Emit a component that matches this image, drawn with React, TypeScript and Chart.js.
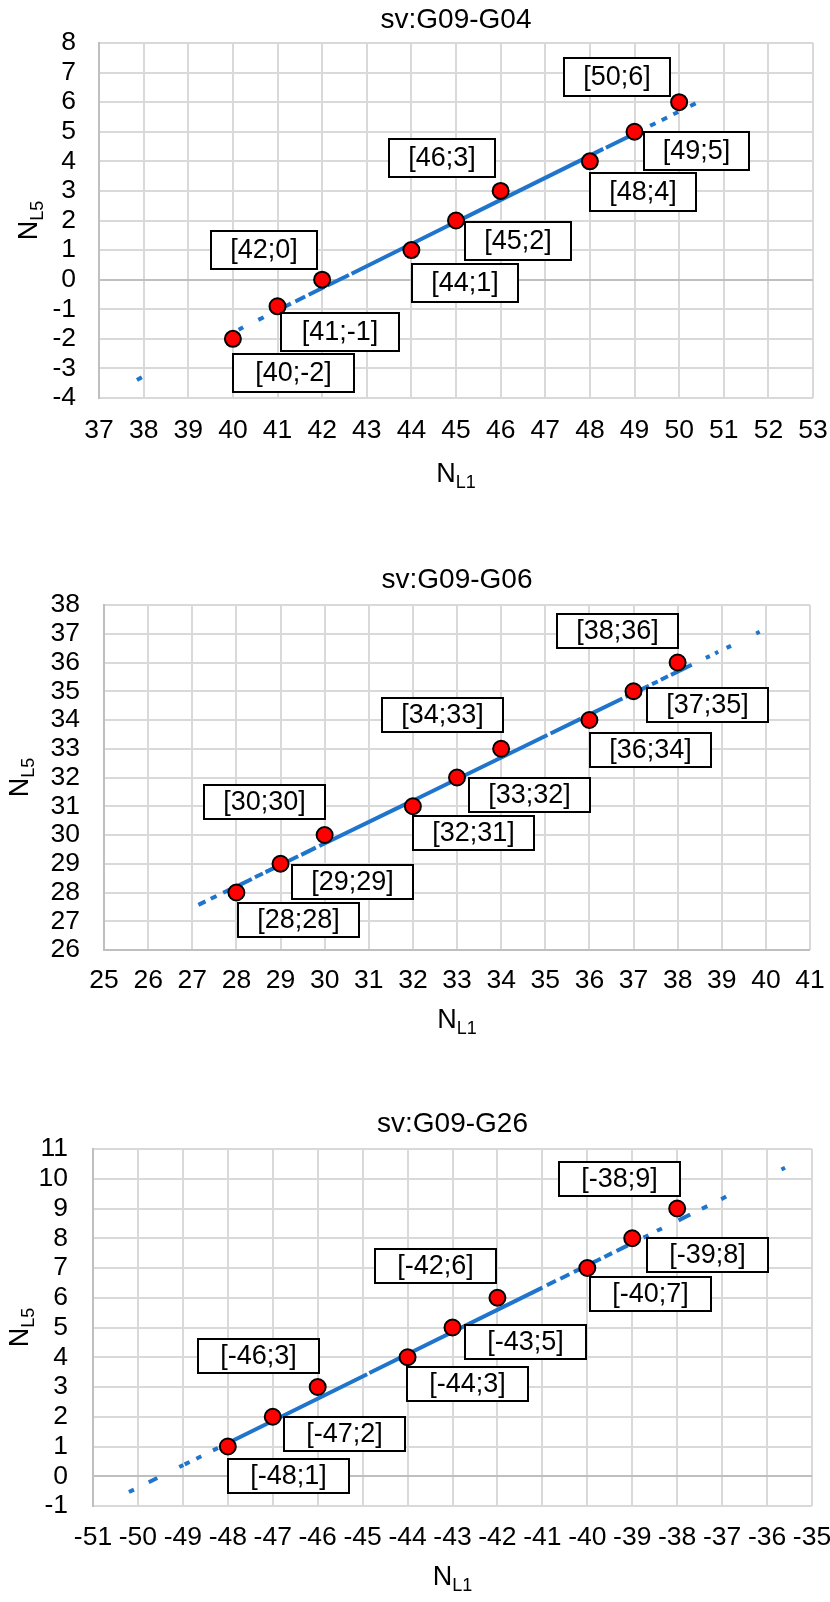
import React, { useEffect, useRef } from 'react';
import { Chart, registerables } from 'chart.js';

Chart.register(...registerables);

const FONT = '"Liberation Sans", Arial, Helvetica, sans-serif';

// ---------- Chart 1: sv:G09-G04 ----------
const g04Title = 'sv:G09-G04';
const g04XTicks = [37, 38, 39, 40, 41, 42, 43, 44, 45, 46, 47, 48, 49, 50, 51, 52, 53];
const g04YTicks = [-4, -3, -2, -1, 0, 1, 2, 3, 4, 5, 6, 7, 8];
const g04N1 = [40, 41, 42, 44, 45, 46, 48, 49, 50];
const g04N5 = [-2, -0.9, 0, 1, 2, 3, 4, 5, 6];
const g04Labels = ['[40;-2]', '[41;-1]', '[42;0]', '[44;1]', '[45;2]', '[46;3]', '[48;4]', '[49;5]', '[50;6]'];
const g04FloatN1 = [37.85, 37.96, null, 40.13, 40.23, null, 40.57, 40.69, null, 41.13, 41.3, null, 41.4, 41.62, null, 41.7, 42.05, null, 42.12, 42.6, null, 42.66, 44.9, null, 44.95, 47.95, null, 48.02, 48.3, null, 48.36, 48.86, null, 49.35, 49.47, null, 49.61, 49.73, null, 49.87, 49.98, null, 50.25, 50.37];
const g04FloatN5 = [-3.39, -3.3, null, -1.69, -1.61, null, -1.36, -1.27, null, -0.94, -0.81, null, -0.74, -0.57, null, -0.51, -0.25, null, -0.2, 0.16, null, 0.2, 1.88, null, 1.91, 4.15, null, 4.21, 4.42, null, 4.46, 4.83, null, 5.2, 5.29, null, 5.39, 5.48, null, 5.59, 5.67, null, 5.87, 5.96];

// ---------- Chart 2: sv:G09-G06 ----------
const g06Title = 'sv:G09-G06';
const g06XTicks = [25, 26, 27, 28, 29, 30, 31, 32, 33, 34, 35, 36, 37, 38, 39, 40, 41];
const g06YTicks = [26, 27, 28, 29, 30, 31, 32, 33, 34, 35, 36, 37, 38];
const g06N1 = [28, 29, 30, 32, 33, 34, 36, 37, 38];
const g06N5 = [28, 29, 30, 31, 32, 33, 34, 35, 36];
const g06Labels = ['[28;28]', '[29;29]', '[30;30]', '[32;31]', '[33;32]', '[34;33]', '[36;34]', '[37;35]', '[38;36]'];
const g06FloatN1 = [27.14, 27.3, null, 27.42, 27.55, null, 27.7, 27.85, null, 27.95, 28.35, null, 28.42, 28.6, null, 28.66, 28.92, null, 29.05, 29.4, null, 29.47, 29.8, null, 29.88, 31.95, null, 32.02, 35.05, null, 35.12, 35.8, null, 35.88, 36.75, null, 36.82, 37.05, null, 37.12, 37.35, null, 37.42, 37.55, null, 37.62, 37.78, null, 37.85, 38.32, null, 38.64, 38.73, null, 38.85, 38.92, null, 39.11, 39.21, null, 39.78, 39.86];
const g06FloatN5 = [27.57, 27.69, null, 27.78, 27.88, null, 27.99, 28.1, null, 28.17, 28.47, null, 28.53, 28.66, null, 28.71, 28.9, null, 29.0, 29.26, null, 29.31, 29.56, null, 29.62, 31.16, null, 31.21, 33.48, null, 33.53, 34.04, null, 34.1, 34.75, null, 34.8, 34.97, null, 35.02, 35.19, null, 35.25, 35.34, null, 35.4, 35.52, null, 35.57, 35.92, null, 36.16, 36.22, null, 36.31, 36.37, null, 36.51, 36.58, null, 37.01, 37.07];

// ---------- Chart 3: sv:G09-G26 ----------
const g26Title = 'sv:G09-G26';
const g26XTicks = [-51, -50, -49, -48, -47, -46, -45, -44, -43, -42, -41, -40, -39, -38, -37, -36, -35];
const g26YTicks = [-1, 0, 1, 2, 3, 4, 5, 6, 7, 8, 9, 10, 11];
const g26N1 = [-48, -47, -46, -44, -43, -42, -40, -39, -38];
const g26N5 = [1, 2, 3, 4, 5, 6, 7, 8, 9];
const g26Labels = ['[-48;1]', '[-47;2]', '[-46;3]', '[-44;3]', '[-43;5]', '[-42;6]', '[-40;7]', '[-39;8]', '[-38;9]'];
const g26FloatN1 = [-50.2, -50.09, null, -49.76, -49.57, null, -49.08, -48.99, null, -48.96, -48.85, null, -48.7, -48.59, null, -48.33, -48.22, null, -47.95, -44.9, null, -44.85, -41.0, null, -40.9, -40.7, null, -40.6, -40.4, null, -40.3, -40.1, null, -39.95, -39.7, null, -39.62, -39.45, null, -39.35, -39.1, null, -38.75, -38.64, null, -38.45, -38.34, null, -37.97, -37.71, null, -37.45, -37.33, null, -37.02, -36.91, null, -35.68, -35.6];
const g26FloatN5 = [-0.53, -0.45, null, -0.2, -0.06, null, 0.31, 0.38, null, 0.4, 0.48, null, 0.59, 0.67, null, 0.87, 0.95, null, 1.15, 3.43, null, 3.47, 6.34, null, 6.42, 6.57, null, 6.64, 6.79, null, 6.87, 7.01, null, 7.13, 7.31, null, 7.37, 7.5, null, 7.57, 7.76, null, 8.02, 8.1, null, 8.25, 8.33, null, 8.6, 8.8, null, 8.99, 9.08, null, 9.31, 9.4, null, 10.31, 10.37];

// ---------- layout (positions / sizes only) ----------
const panels = [
  {
    title: g04Title, xTicks: g04XTicks, yTicks: g04YTicks, n1: g04N1, n5: g04N5, labels: g04Labels,
    fN1: g04FloatN1, fN5: g04FloatN5, yCross: 0,
    top: 0, pad: { top: 43, left: 0, right: 17, bottom: 76 }, yW: 99,
    xPad: 17, yPad: 23, titleGap: 15, xTitleGap: 84, yTitleX: 37,
    offsets: [[61, 34], [62, 26], [-58, -30], [54, 33], [62, 20], [-59, -33], [53, 31], [62, 19], [-62, -25]],
    boxW: [121, 118, 106, 106, 106, 106, 106, 105, 106], boxH: 38,
  },
  {
    title: g06Title, xTicks: g06XTicks, yTicks: g06YTicks, n1: g06N1, n5: g06N5, labels: g06Labels,
    fN1: g06FloatN1, fN5: g06FloatN5, yCross: 26,
    top: 534, pad: { top: 71, left: 0, right: 20, bottom: 58 }, yW: 104,
    xPad: 15, yPad: 24, titleGap: 17, xTitleGap: 78, yTitleX: 28,
    offsets: [[62, 27], [72, 18], [-60, -33], [61, 27], [72, 17], [-59, -34], [61, 30], [74, 14], [-60, -32]],
    boxW: [121, 121, 121, 121, 121, 121, 121, 121, 121], boxH: 34,
  },
  {
    title: g26Title, xTicks: g26XTicks, yTicks: g26YTicks, n1: g26N1, n5: g26N5, labels: g26Labels,
    fN1: g26FloatN1, fN5: g26FloatN5, yCross: 0,
    top: 1068, pad: { top: 81, left: 0, right: 18, bottom: 36 }, yW: 93,
    xPad: 16, yPad: 25, titleGap: 17, xTitleGap: 79, yTitleX: 28,
    offsets: [[61, 29], [72, 17], [-59, -31], [60, 27], [73, 14], [-62, -32], [63, 26], [75, 17], [-58, -30]],
    boxW: [121, 121, 121, 121, 121, 121, 121, 121, 121], boxH: 34,
  },
];

const TICK_SIZE = 26.5;
const TITLE_SIZE = 28;
const LABEL_SIZE = 27;
const AXT_SIZE = 27;
const SUB_SIZE = 18;

function drawComposite(ctx: CanvasRenderingContext2D, main: string, sub: string, cx: number, baseline: number) {
  ctx.font = `${AXT_SIZE}px ${FONT}`;
  const wM = ctx.measureText(main).width;
  ctx.font = `${SUB_SIZE}px ${FONT}`;
  const wS = ctx.measureText(sub).width;
  const x0 = cx - (wM + wS) / 2;
  ctx.textAlign = 'left';
  ctx.textBaseline = 'alphabetic';
  ctx.fillStyle = '#000';
  ctx.font = `${AXT_SIZE}px ${FONT}`;
  ctx.fillText(main, x0, baseline);
  ctx.font = `${SUB_SIZE}px ${FONT}`;
  ctx.fillText(sub, x0 + wM, baseline + 6);
}

const annotPlugin = {
  id: 'annot',
  afterDatasetsDraw(chart: any, _args: any, opts: any) {
    const ctx: CanvasRenderingContext2D = chart.ctx;
    const meta = chart.getDatasetMeta(0);
    ctx.save();
    meta.data.forEach((el: any, i: number) => {
      const [dx, dy] = opts.offsets[i];
      const w = opts.boxW[i];
      const h = opts.boxH;
      const cx = el.x + dx;
      const cy = el.y + dy;
      const l = Math.round(cx - w / 2);
      const t = Math.round(cy - h / 2);
      ctx.fillStyle = '#ffffff';
      ctx.fillRect(l, t, w, h);
      ctx.lineWidth = 2;
      ctx.strokeStyle = '#000000';
      ctx.strokeRect(l, t, w, h);
      ctx.fillStyle = '#000000';
      ctx.font = `${LABEL_SIZE}px ${FONT}`;
      ctx.textAlign = 'center';
      ctx.textBaseline = 'middle';
      ctx.fillText(opts.labels[i], l + w / 2, t + h / 2 + 1);
    });
    ctx.restore();
  },
  afterDraw(chart: any, _args: any, opts: any) {
    const ctx: CanvasRenderingContext2D = chart.ctx;
    const ca = chart.chartArea;
    const cx = (ca.left + ca.right) / 2;
    const cy = (ca.top + ca.bottom) / 2;
    ctx.save();
    ctx.fillStyle = '#000';
    ctx.font = `${TITLE_SIZE}px ${FONT}`;
    ctx.textAlign = 'center';
    ctx.textBaseline = 'alphabetic';
    ctx.fillText(opts.title, cx, ca.top - opts.titleGap);
    drawComposite(ctx, 'N', 'L1', cx, ca.bottom + opts.xTitleGap);
    ctx.translate(opts.yTitleX, cy);
    ctx.rotate(-Math.PI / 2);
    drawComposite(ctx, 'N', 'L5', 0, 0);
    ctx.restore();
  },
};

function Panel({ p }: { p: any }) {
  const ref = useRef<HTMLCanvasElement>(null);
  useEffect(() => {
    const pts = p.n1.map((x: number, i: number) => ({ x, y: p.n5[i] }));
    const flt = p.fN1.map((x: number | null, i: number) => ({ x: x, y: p.fN5[i] }));
    const chart = new Chart(ref.current as HTMLCanvasElement, {
      type: 'scatter',
      data: {
        datasets: [
          {
            data: pts,
            backgroundColor: '#ff0000',
            borderColor: '#000000',
            borderWidth: 2,
            pointRadius: 8,
            pointHoverRadius: 8,
            showLine: false,
          },
          {
            data: flt,
            showLine: true,
            spanGaps: false,
            borderColor: '#1f74cc',
            backgroundColor: '#1f74cc',
            borderWidth: 4,
            pointRadius: 0,
            pointHoverRadius: 0,
            tension: 0,
          } as any,
        ],
      },
      options: {
        responsive: false,
        animation: false,
        devicePixelRatio: 1,
        layout: { padding: p.pad },
        plugins: {
          legend: { display: false },
          tooltip: { enabled: false },
          title: { display: false },
          annot: {
            title: p.title,
            offsets: p.offsets,
            boxW: p.boxW,
            boxH: p.boxH,
            labels: p.labels,
            titleGap: p.titleGap,
            xTitleGap: p.xTitleGap,
            yTitleX: p.yTitleX,
          },
        } as any,
        scales: {
          x: {
            type: 'linear',
            min: p.xTicks[0],
            max: p.xTicks[p.xTicks.length - 1],
            afterBuildTicks: (s: any) => { s.ticks = p.xTicks.map((v: number) => ({ value: v })); },
            afterFit: (s: any) => { s.height = 60; s.paddingLeft = 0; s.paddingRight = 0; },
            ticks: {
              font: { family: FONT, size: TICK_SIZE },
              color: '#000',
              padding: p.xPad,
              maxRotation: 0,
              autoSkip: false,
              callback: (v: any) => String(v),
            },
            grid: {
              color: (c: any) => (c.tick && c.tick.value === p.xTicks[0] ? '#bfbfbf' : '#d9d9d9'),
              lineWidth: 2,
              drawTicks: false,
            },
            border: { display: false },
          },
          y: {
            type: 'linear',
            min: p.yTicks[0],
            max: p.yTicks[p.yTicks.length - 1],
            afterBuildTicks: (s: any) => { s.ticks = p.yTicks.map((v: number) => ({ value: v })); },
            afterFit: (s: any) => { s.width = p.yW; s.paddingTop = 0; s.paddingBottom = 0; },
            ticks: {
              font: { family: FONT, size: TICK_SIZE },
              color: '#000',
              padding: p.yPad,
              autoSkip: false,
              callback: (v: any) => String(v),
            },
            grid: {
              color: (c: any) => (c.tick && c.tick.value === p.yCross ? '#bfbfbf' : '#d9d9d9'),
              lineWidth: 2,
              drawTicks: false,
            },
            border: { display: true, color: '#bfbfbf', width: 2 },
          },
        },
      },
      plugins: [annotPlugin],
    } as any);
    return () => chart.destroy();
  }, []);
  return (
    <canvas
      ref={ref}
      width={830}
      height={534}
      style={{ position: 'absolute', left: 0, top: p.top, width: 830, height: 534, display: 'block' }}
    />
  );
}

export default function App() {
  return (
    <div style={{ position: 'absolute', left: 0, top: 0, width: 830, height: 1602, background: '#ffffff', overflow: 'hidden' }}>
      {panels.map((p, i) => (
        <Panel key={i} p={p} />
      ))}
    </div>
  );
}
